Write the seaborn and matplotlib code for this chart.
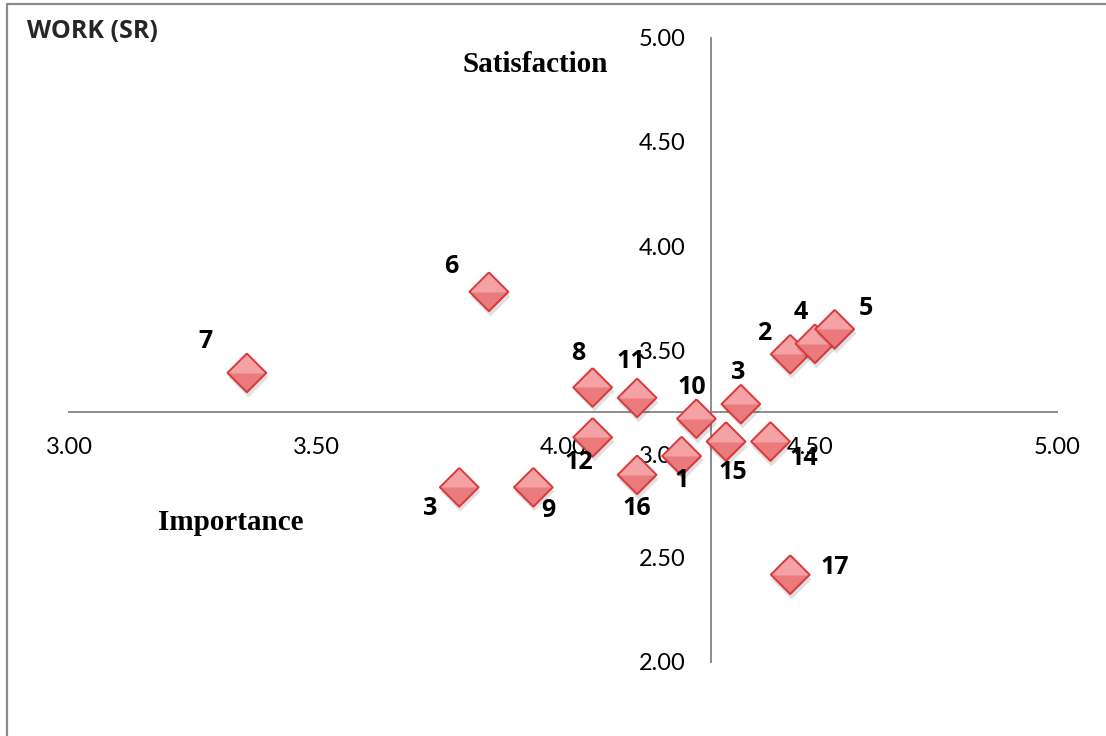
import pandas as pd
import seaborn as sns
import matplotlib.pyplot as plt
from matplotlib.lines import Line2D
from matplotlib.transforms import ScaledTranslation

# Data (importance on x, satisfaction on y)
labels = ["1", "2", "3", "4", "5", "6", "7", "8", "9", "10",
          "11", "12", "3", "14", "15", "16", "17"]
importance = [4.24, 4.46, 4.36, 4.51, 4.55, 3.85, 3.36, 4.06, 3.94, 4.27,
              4.15, 4.06, 3.79, 4.42, 4.33, 4.15, 4.46]
satisfaction = [2.99, 3.48, 3.24, 3.53, 3.60, 3.78, 3.39, 3.32, 2.84, 3.17,
                3.27, 3.08, 2.84, 3.06, 3.06, 2.90, 2.42]
x_ticks = [3.0, 3.5, 4.0, 4.5, 5.0]
y_ticks = [2.0, 2.5, 3.0, 3.5, 4.0, 4.5, 5.0]

# where each point label sits, in pixels from the marker (x right, y up)
label_offsets = [(0, -24), (-26, 21), (-3, 32), (-14, 31), (31, 21), (-38, 25),
                 (-41, 31), (-14, 34), (15, -23), (-5, 31), (-6, 36), (-14, -25),
                 (-29, -21), (33, -17), (7, -31), (0, -34), (45, 7)]

df = pd.DataFrame({"label": labels, "importance": importance,
                   "satisfaction": satisfaction})

sns.set_style("white")
plt.rcParams["font.family"] = ["Lato", "DejaVu Sans"]
bold_font = ["Open Sans", "DejaVu Sans"]

fig = plt.figure(figsize=(11.06, 7.36), dpi=100)
ax = fig.add_axes([69 / 1106, 1 - 662 / 736, 988 / 1106, 624 / 736])

# diamond built from a path so the top half can be shaded lighter
diamond = [(0, 1), (1, 0), (0, -1), (-1, 0), (0, 1)]
top_half = [(-1, 0), (0, 1), (1, 0), (-1, 0)]
size = 780
shadow = ax.transData + ScaledTranslation(1 / 100, -4 / 100, fig.dpi_scale_trans)

for i, row in df.iterrows():
    z = 3 + i * 0.01
    one = df.iloc[[i]]
    ax.scatter(one["importance"], one["satisfaction"], marker=diamond, s=size * 1.05,
               color="black", alpha=0.12, linewidths=0, transform=shadow, zorder=z)
    sns.scatterplot(data=one, x="importance", y="satisfaction", marker=diamond,
                    s=size, color="#EB7A7C", linewidth=0, ax=ax, zorder=z + 0.001)
    ax.scatter(one["importance"], one["satisfaction"], marker=top_half, s=size,
               color="#F4A2A3", linewidths=0, zorder=z + 0.002)
    ax.scatter(one["importance"], one["satisfaction"], marker=diamond, s=size,
               facecolors="none", edgecolors="#D8393D", linewidths=1.4, zorder=z + 0.003)
    dx, dy = label_offsets[i]
    ax.annotate(row["label"], (row["importance"], row["satisfaction"]),
                xytext=(dx, dy), textcoords="offset pixels", ha="center", va="center",
                fontsize=18, fontweight="bold", family=bold_font, color="black",
                zorder=10)

ax.set_xlim(3, 5)
ax.set_ylim(2, 5)
ax.set_xticks(x_ticks)
ax.set_yticks(y_ticks)
ax.set_xticklabels([f"{v:.2f}" for v in x_ticks])
ax.set_yticklabels([f"{v:.2f}" for v in y_ticks])
ax.set_xlabel("")
ax.set_ylabel("")

# Excel-style crossing axes
ax.spines["top"].set_visible(False)
ax.spines["right"].set_visible(False)
ax.spines["left"].set_position(("data", 4.30))
ax.spines["bottom"].set_position(("data", 3.20))
for side in ["left", "bottom"]:
    ax.spines[side].set_color("#8C8C8C")
    ax.spines[side].set_linewidth(1.4)
ax.tick_params(axis="x", length=0, labelsize=17, pad=18, colors="black")
ax.tick_params(axis="y", length=0, labelsize=17, pad=18.5, colors="black")
ax.set_facecolor("none")

# titles placed like the original chart
fig.text(27 / 1106, 1 - 32 / 736, "WORK (SR)", fontsize=18, fontweight="bold",
         family=bold_font, ha="left", va="center")
fig.text(535 / 1106, 1 - 64 / 736, "Satisfaction", fontsize=21, fontweight="bold",
         family="Liberation Serif", color="black", ha="center", va="center")
fig.text(231 / 1106, 1 - 522 / 736, "Importance", fontsize=21, fontweight="bold",
         family="Liberation Serif", color="black", ha="center", va="center")

# chart frame (cropped at bottom)
fig.add_artist(Line2D([6.5 / 1106, 6.5 / 1106, 1.0], [0.0, 1 - 4 / 736, 1 - 4 / 736],
                      transform=fig.transFigure, color="#8A8A8A", linewidth=1.6))

fig.savefig("out.png", dpi=100)
